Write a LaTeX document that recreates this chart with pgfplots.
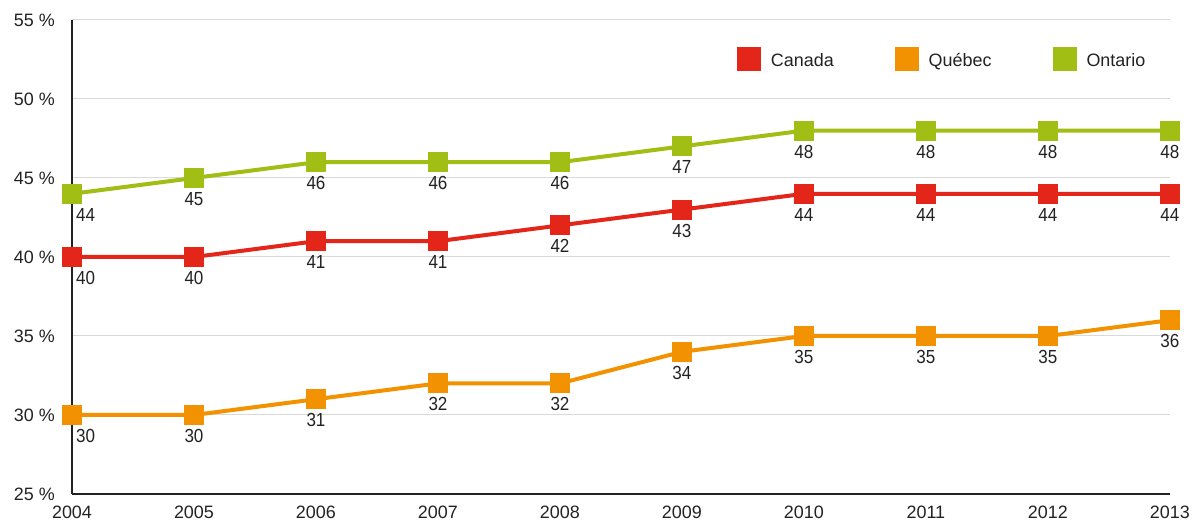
\documentclass[border=0pt]{standalone}
\usepackage{fontspec}
\setmainfont{Liberation Sans}
\newfontfamily\narrowfont[FakeStretch=0.9]{Liberation Sans}
\usepackage{pgfplots}
\usepackage{pgfplotstable}
\pgfplotsset{compat=1.18}
\definecolor{cred}{RGB}{227,38,25}
\definecolor{corange}{RGB}{243,146,0}
\definecolor{cgreen}{RGB}{161,190,20}
\definecolor{tgray}{RGB}{34,34,34}
\definecolor{ggray}{RGB}{217,217,217}

\pgfplotstableread{
year canada quebec ontario
2004 40 30 44
2005 40 30 45
2006 41 31 46
2007 41 32 46
2008 42 32 46
2009 43 34 47
2010 44 35 48
2011 44 35 48
2012 44 35 48
2013 44 36 48
}\datatable

\pgfplotsset{
  series/.style={line width=4bp, mark=square*, mark size=8bp, mark options={solid}},
  lab/.style 2 args={only marks, mark=square*, mark size=8bp, forget plot, nodes near coords,
    every node near coord/.append style={anchor=#1, xshift=#2, font=\narrowfont\fontsize{19}{21}\selectfont, text=tgray, inner sep=0pt, yshift=-14bp}},
  first/.style={lab={north west}{4bp}, restrict x to domain=2003.5:2004.5},
  rest/.style={lab={north}{0bp}, restrict x to domain=2004.5:2013.5},
}

\begin{document}
\begin{tikzpicture}
\useasboundingbox (-72bp,-28bp) rectangle (1124bp,494bp);
\begin{axis}[
  scale only axis,
  width=1098bp, height=474bp,
  xmin=2004, xmax=2013, ymin=25, ymax=55,
  xtick={2004,...,2013},
  ytick={25,30,...,55},
  clip=false,
  axis x line*=bottom, axis y line*=left,
  axis line style={tgray, line width=1.2bp},
  major tick length=0pt,
  ymajorgrids,
  grid style={ggray, line width=1bp},
  /pgf/number format/assume math mode=true,
  x tick label style={/pgf/number format/1000 sep={}, font=\fontsize{18}{20}\selectfont, text=tgray, inner sep=0pt, anchor=north, yshift=-12bp},
  yticklabel={\pgfmathprintnumber{\tick} \%},
  y tick label style={font=\fontsize{18}{20}\selectfont, text=tgray, inner sep=0pt, anchor=east, xshift=-17bp},
  legend image code/.code={\fill[#1, draw=none] (0bp,-10.5bp) rectangle (24bp,13.5bp);},
  legend columns=3,
  legend cell align=left,
  legend style={at={(0.6056,0.9177)}, anchor=west, draw=none, fill=none, inner sep=0pt, outer sep=0pt,
    font=\fontsize{18}{20}\selectfont, text=tgray,
    /tikz/every odd column/.append style={column sep=10bp},
    /tikz/every even column/.append style={column sep=61bp},
    nodes={inner sep=0pt}},
]
\addplot[cred, series] table[x=year,y=canada]{\datatable};
\addlegendentry{Canada}
\addplot[corange, series] table[x=year,y=quebec]{\datatable};
\addlegendentry{Québec}
\addplot[cgreen, series] table[x=year,y=ontario]{\datatable};
\addlegendentry{Ontario}
\addplot[cred, first] table[x=year,y=canada]{\datatable};
\addplot[cred, rest] table[x=year,y=canada]{\datatable};
\addplot[corange, first] table[x=year,y=quebec]{\datatable};
\addplot[corange, rest] table[x=year,y=quebec]{\datatable};
\addplot[cgreen, first] table[x=year,y=ontario]{\datatable};
\addplot[cgreen, rest] table[x=year,y=ontario]{\datatable};
\end{axis}
\end{tikzpicture}
\end{document}
